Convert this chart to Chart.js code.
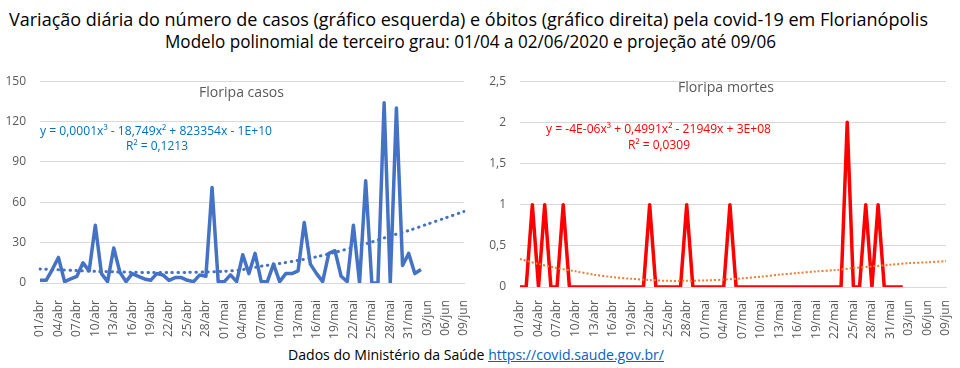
<!DOCTYPE html>
<html>
<head>
<meta charset="utf-8">
<script src="https://cdn.jsdelivr.net/npm/chart.js@4/dist/chart.umd.min.js"></script>
<style>
  body { margin: 0; background: #fff; width: 960px; height: 368px; overflow: hidden; position: relative; font-family: "Open Sans", sans-serif; }
  canvas { position: absolute; top: 60px; }
  .t { position: absolute; white-space: nowrap; line-height: 1; transform-origin: 0 50%; }
  .t a { color: #0563C1; text-decoration: underline; }
</style>
</head>
<body>
<canvas id="casos" width="480" height="280" style="left:0"></canvas>
<canvas id="obitos" width="480" height="280" style="left:480px"></canvas>

<div class="t" data-x="9" data-y="19" data-w="919" style="font-size:18px;color:#000">Variação diária do número de casos (gráfico esquerda) e óbitos (gráfico direita) pela covid-19 em Florianópolis</div>
<div class="t" data-x="165" data-y="41" data-w="611" style="font-size:18px;color:#000">Modelo polinomial de terceiro grau: 01/04 a 02/06/2020 e projeção até 09/06</div>

<div class="t" data-x="199" data-y="92" data-w="85" style="font-size:14px;color:#595959">Floripa casos</div>
<div class="t" data-x="40" data-y="130" data-w="232" style="font-size:13px;color:#0070C0">y = 0,0001x³ - 18,749x² + 823354x - 1E+10</div>
<div class="t" data-x="126" data-y="145" data-w="62" style="font-size:13px;color:#0070C0">R² = 0,1213</div>

<div class="t" data-x="678" data-y="87" data-w="96" style="font-size:14px;color:#595959">Floripa mortes</div>
<div class="t" data-x="546" data-y="128" data-w="225" style="font-size:13px;color:#FF0000">y = -4E-06x³ + 0,4991x² - 21949x + 3E+08</div>
<div class="t" data-x="628" data-y="144" data-w="62" style="font-size:13px;color:#FF0000">R² = 0,0309</div>

<div class="t" data-x="288" data-y="354" data-w="376" style="font-size:15px;color:#000">Dados do Ministério da Saúde <a>https://covid.saude.gov.br/</a></div>

<script>
// dias do eixo x: 01/04 a 09/06 (os ultimos 7 dias sao so projecao)
const dias = [
  '01/abr','02/abr','03/abr','04/abr','05/abr','06/abr','07/abr','08/abr','09/abr','10/abr',
  '11/abr','12/abr','13/abr','14/abr','15/abr','16/abr','17/abr','18/abr','19/abr','20/abr',
  '21/abr','22/abr','23/abr','24/abr','25/abr','26/abr','27/abr','28/abr','29/abr','30/abr',
  '01/mai','02/mai','03/mai','04/mai','05/mai','06/mai','07/mai','08/mai','09/mai','10/mai',
  '11/mai','12/mai','13/mai','14/mai','15/mai','16/mai','17/mai','18/mai','19/mai','20/mai',
  '21/mai','22/mai','23/mai','24/mai','25/mai','26/mai','27/mai','28/mai','29/mai','30/mai',
  '31/mai','01/jun','02/jun','03/jun','04/jun','05/jun','06/jun','07/jun','08/jun','09/jun'
];

// casos novos por dia, 01/04 a 02/06
const casos = [
  2, 2, 10, 19, 1, 3, 5, 15, 9, 43,
  7, 1, 26, 8, 1, 7, 5, 3, 2, 7,
  6, 2, 4, 4, 2, 1, 6, 5, 71, 1,
  1, 6, 1, 21, 7, 22, 1, 1, 14, 1,
  7, 7, 9, 45, 14, 7, 1, 22, 24, 5,
  1, 43, 0, 76, 0, 0, 134, 0, 130, 13,
  22, 7, 10
];

// obitos por dia, 01/04 a 02/06
const obitos = [
  0, 0, 1, 0, 1, 0, 0, 1, 0, 0,
  0, 0, 0, 0, 0, 0, 0, 0, 0, 0,
  0, 1, 0, 0, 0, 0, 0, 1, 0, 0,
  0, 0, 0, 0, 1, 0, 0, 0, 0, 0,
  0, 0, 0, 0, 0, 0, 0, 0, 0, 0,
  0, 0, 0, 2, 0, 0, 1, 0, 1, 0,
  0, 0, 0
];

// linha de tendencia (polinomial grau 3), lida a cada 3 dias: 01/abr, 04/abr ... 09/jun
const passo = 3;
const tendCasos = [10.4, 9.8, 9.2, 8.7, 8.3, 8.0, 7.8, 7.8, 7.9, 8.2, 8.7, 10.0,
                   12.5, 14.5, 16.8, 19.5, 22.8, 26.5, 30.5, 35.0, 39.0, 43.7, 48.4, 53.2];
const tendObitos = [0.34, 0.28, 0.23, 0.19, 0.15, 0.12, 0.10, 0.085, 0.075, 0.075, 0.08, 0.09,
                    0.105, 0.125, 0.15, 0.17, 0.19, 0.205, 0.23, 0.25, 0.27, 0.29, 0.30, 0.315];

const fonteEixo = { family: 'Open Sans', size: 12 };

function serieTendencia(vals) {
  const out = dias.map(() => null);
  vals.forEach((v, k) => { out[k * passo] = v; });
  return out;
}

function grafico(id, cfg) {
  return new Chart(document.getElementById(id), {
    type: 'line',
    data: {
      labels: dias,
      datasets: [
        {
          data: serieTendencia(cfg.tend),
          borderColor: cfg.corTend,
          borderWidth: cfg.larguraTend,
          borderDash: cfg.traco,
          borderCapStyle: cfg.ponta,
          pointRadius: 0,
          spanGaps: true,
          tension: 0.3,
          order: 0
        },
        {
          data: cfg.serie,
          borderColor: cfg.cor,
          borderWidth: 3.5,
          borderJoinStyle: 'round',
          pointRadius: 0,
          order: 1
        }
      ]
    },
    options: {
      responsive: false,
      animation: false,
      layout: { padding: { top: cfg.topo, right: cfg.direita, left: 0, bottom: 0 } },
      plugins: { legend: { display: false }, tooltip: { enabled: false } },
      scales: {
        x: {
          grid: { display: false },
          border: { color: '#d9d9d9' },
          ticks: {
            autoSkip: false,
            maxRotation: 90,
            minRotation: 90,
            padding: cfg.padX,
            color: '#595959',
            font: fonteEixo,
            callback: (v, i) => (i % passo === 0 ? dias[i] : '')
          },
          // altura fixa e sem folga extra para os rotulos girados
          afterFit: s => { s.height = cfg.alturaX; s.paddingLeft = 0; s.paddingRight = 0; }
        },
        y: {
          min: 0,
          max: cfg.max,
          grid: { color: '#d9d9d9', drawTicks: false },
          border: { display: false },
          ticks: {
            stepSize: cfg.step,
            padding: 14,
            color: '#595959',
            font: fonteEixo,
            callback: v => String(v).replace('.', ',')
          },
          afterFit: s => { s.width = 40; }
        }
      }
    }
  });
}

grafico('casos', {
  serie: casos, cor: '#4472C4',
  tend: tendCasos, corTend: '#4472C4', larguraTend: 3, traco: [0.5, 5.5], ponta: 'round',
  max: 150, step: 30, topo: 16, direita: 16, alturaX: 57, padX: 9
});

grafico('obitos', {
  serie: obitos, cor: '#FF0000',
  tend: tendObitos, corTend: '#ED7D31', larguraTend: 2, traco: [2, 2], ponta: 'butt',
  max: 2.5, step: 0.5, topo: 12, direita: 14, alturaX: 53, padX: 5
});

// encaixa os textos nas larguras medidas na imagem
document.querySelectorAll('.t').forEach(el => {
  const r = el.getBoundingClientRect();
  el.style.left = el.dataset.x + 'px';
  el.style.top = (el.dataset.y - r.height / 2) + 'px';
  el.style.transform = 'scaleX(' + (el.dataset.w / r.width) + ')';
});
</script>
</body>
</html>
